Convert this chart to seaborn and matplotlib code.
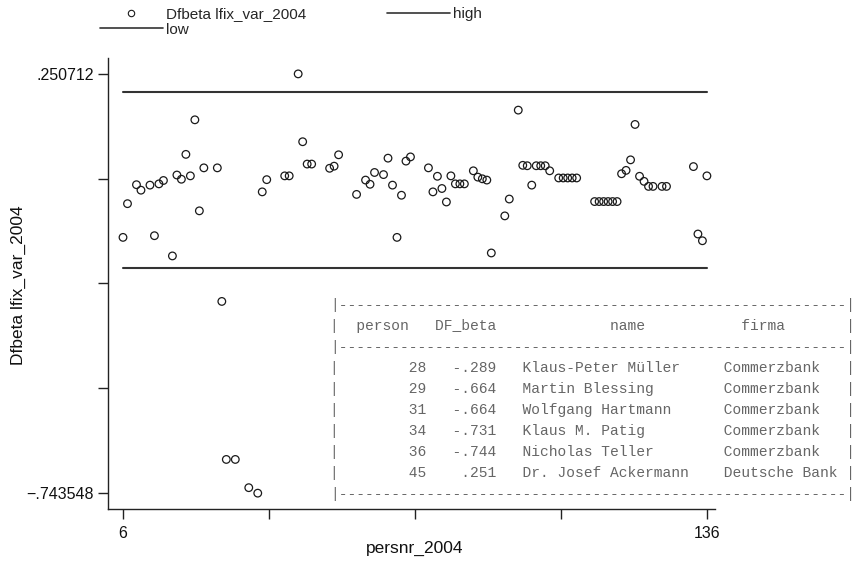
import matplotlib
matplotlib.use("Agg")
import matplotlib.pyplot as plt
import seaborn as sns
import pandas as pd
from matplotlib.lines import Line2D

# ---------------- data ----------------
persnr = [6, 7, 9, 10, 12, 13, 14, 15, 17, 18, 19, 20, 21, 22, 23, 24, 27,
          28, 29, 31, 34, 36, 37, 38, 42, 43, 45, 46, 47, 48, 52, 53, 54,
          58, 60, 61, 62, 64, 65, 66, 67, 68, 69, 70, 74, 75, 76, 77, 78,
          79, 80, 81, 82, 84, 85, 86, 87, 88, 91, 92, 94, 95, 96, 97, 98,
          99, 100, 101, 103, 104, 105, 106, 107, 111, 112, 113, 114, 115,
          116, 117, 118, 119, 120, 121, 122, 123, 124, 126, 127, 133, 134,
          135, 136]
dfbeta = [-0.137, -0.057, -0.012, -0.025, -0.013, -0.133, -0.010, -0.002,
          -0.181, 0.011, 0.001, 0.060, 0.009, 0.142, -0.074, 0.028, 0.028,
          -0.289, -0.664, -0.664, -0.731, -0.744, -0.029, 0.000, 0.009,
          0.009, 0.251, 0.090, 0.037, 0.037, 0.027, 0.032, 0.059,
          -0.035, -0.001, -0.011, 0.017, 0.012, 0.051, -0.013, -0.137,
          -0.037, 0.044, 0.054, 0.028, -0.029, 0.008, -0.021, -0.053,
          0.009, -0.010, -0.010, -0.010, 0.021, 0.006, 0.002, -0.001,
          -0.174, -0.086, -0.046, 0.165, 0.034, 0.033, -0.013, 0.033,
          0.033, 0.033, 0.021, 0.004, 0.004, 0.004, 0.004, 0.004, -0.052,
          -0.052, -0.052, -0.052, -0.052, -0.052, 0.014, 0.022, 0.047,
          0.131, 0.008, -0.004, -0.016, -0.016, -0.016, -0.016, 0.031,
          -0.129, -0.145, 0.009]
line_x = [6, 136]
high_value = 0.2085
low_value = -0.2085

x_ticks = [6, 38.5, 71, 103.5, 136]
x_ticklabels = ["6", "", "", "", "136"]
y_ticks = [0.250712, 0.002147, -0.246418, -0.494983, -0.743548]
y_ticklabels = [".250712", "", "", "", "\u2212.743548"]

tab_person = [28, 29, 31, 34, 36, 45]
tab_dfbeta = ["-.289", "-.664", "-.664", "-.731", "-.744", ".251"]
tab_name = ["Klaus-Peter Müller", "Martin Blessing", "Wolfgang Hartmann",
            "Klaus M. Patig", "Nicholas Teller", "Dr. Josef Ackermann"]
tab_firma = ["Commerzbank", "Commerzbank", "Commerzbank", "Commerzbank",
             "Commerzbank", "Deutsche Bank"]

# ---------------- style ----------------
sns.set_theme(style="ticks")
plt.rcParams['font.family'] = ['Liberation Sans', 'DejaVu Sans']
plt.rcParams['axes.edgecolor'] = '#222222'
plt.rcParams['axes.linewidth'] = 1.0

W, H = 862, 561
fig = plt.figure(figsize=(W / 100, H / 100), dpi=100)
fig.patch.set_facecolor('white')
ax = fig.add_axes([108 / W, 1 - 509 / H, (715 - 108) / W, (509 - 58) / H])

df = pd.DataFrame({"persnr_2004": persnr, "dfbeta": dfbeta})
sns.scatterplot(data=df, x="persnr_2004", y="dfbeta", ax=ax, marker="o",
                s=30, facecolors="none", edgecolor="#1a1a1a", linewidth=0.9,
                legend=False, zorder=3)
sns.lineplot(x=line_x, y=[high_value] * len(line_x), ax=ax, color="#333333",
             linewidth=1.5, legend=False)
sns.lineplot(x=line_x, y=[low_value] * len(line_x), ax=ax, color="#333333",
             linewidth=1.5, legend=False)

ax.set_xlim(2.66, 137.8)
ax.set_ylim(-0.7816, 0.2887)
ax.set_xticks(x_ticks)
ax.set_xticklabels(x_ticklabels)
ax.set_yticks(y_ticks)
ax.set_yticklabels(y_ticklabels)
ax.tick_params(axis='both', length=7, width=1.0, color='#222222',
               labelsize=11.5, labelcolor='#111111')
ax.tick_params(axis='x', pad=5)
ax.tick_params(axis='y', pad=3)
for sp in ['top', 'right']:
    ax.spines[sp].set_visible(False)

ax.set_xlabel("persnr_2004", fontsize=12.5, color='#111111')
ax.set_ylabel("Dfbeta lfix_var_2004", fontsize=12.5, color='#111111')
ax.xaxis.set_label_coords((415 - 108) / (715 - 108), (509 - 541) / (509 - 58))
ax.yaxis.set_label_coords((26 - 108) / (715 - 108), (509 - 285) / (509 - 58))

# ---------------- legend ----------------
h_dfb = Line2D([], [], marker='o', linestyle='none', markersize=4.6,
               markerfacecolor='none', markeredgecolor='#1a1a1a',
               markeredgewidth=0.8)
h_high = Line2D([], [], color='#333333', linewidth=1.2)
h_low = Line2D([], [], color='#333333', linewidth=1.2)
fig.legend([h_dfb, h_low, h_high], ["Dfbeta lfix_var_2004", "low", "high"],
           ncol=2, loc='upper left', bbox_to_anchor=(100 / W, 1 - 7 / H),
           frameon=False, borderpad=0, fontsize=11, handlelength=4.12,
           handletextpad=0.2, columnspacing=5.3, labelspacing=0.1,
           borderaxespad=0)

# ---------------- text table ----------------
border = "|" + "-" * 58 + "|"
header = "|" + "  person" + "   DF_beta" + " " * 13 + "name" + " " * 11 + "firma" + " " * 7 + "|"
rows = [border, header, border]
for p, d, n, f in zip(tab_person, tab_dfbeta, tab_name, tab_firma):
    rows.append("|" + f"{p:>10}" + f"{d:>8}" + "   " + f"{n:<23}" + f"{f:<14}" + "|")
rows.append(border)
for i, line in enumerate(rows):
    fig.text(330 / W, 1 - (305 + 21 * i) / H, line, ha='left', va='center',
             family=['Liberation Mono', 'DejaVu Sans Mono'], fontsize=10.56,
             color='#666666')

fig.savefig("out.png", dpi=100, facecolor='white')
